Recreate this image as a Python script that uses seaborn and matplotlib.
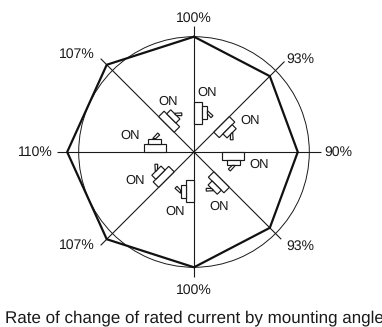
import numpy as np
import pandas as pd
import matplotlib
matplotlib.use("Agg")
import matplotlib.pyplot as plt
from matplotlib.patches import Polygon
from matplotlib.transforms import Affine2D
import seaborn as sns

sns.set_theme(style="white")
plt.rcParams['font.family'] = ['Liberation Sans', 'DejaVu Sans']
plt.rcParams['text.hinting'] = 'no_hinting'
plt.rcParams['text.hinting_factor'] = 1

# data
angles = [0, 45, 90, 135, 180, 225, 270, 315]
rates = [100, 93, 90, 93, 100, 107, 110, 107]
labels = ["100%", "93%", "90%", "93%", "100%", "107%", "110%", "107%"]
title = "Rate of change of rated current by mounting angle"

# presentation
W, H = 382, 327
CX, CY = 194, 152
PX_PER_UNIT = 1.153
RMAX = 120
spoke_len = [109.3, 111, 110, 107, 108.4, 114.5, 119, 114.5]
label_xy = [(194.3, 18), (300.7, 59.3), (338.7, 152), (300.7, 246),
            (194.3, 290), (77.3, 245.3), (35.3, 152.7), (77.3, 54)]
on_xy = [(207.3, 92.7), (250, 120.7), (259, 164.7), (219, 206.7),
         (175.3, 212), (135, 180.7), (130, 136), (167.7, 101.3)]
INK = "#1a1a1a"

fig = plt.figure(figsize=(W / 100, H / 100), dpi=100, facecolor="white")
R = RMAX * PX_PER_UNIT
ax = fig.add_axes([(CX - R) / W, (H - CY - R) / H, 2 * R / W, 2 * R / H], polar=True)
ax.set_theta_zero_location("N")
ax.set_theta_direction(-1)
ax.set_facecolor("none")
ax.spines["polar"].set_visible(False)
ax.set_xticks([])
ax.set_rgrids([100], labels=[""])
ax.grid(True, axis="y", color=INK, lw=0.7)

for a, s in zip(angles, spoke_len):
    ax.plot([np.deg2rad(a)] * 2, [0, s], color=INK, lw=0.8, solid_capstyle="butt")

df = pd.DataFrame({"theta": np.deg2rad(angles + angles[:1]), "rate": rates + rates[:1]})
sns.lineplot(data=df, x="theta", y="rate", sort=False, estimator=None, ax=ax,
             color="#111111", lw=1.6)
ax.set_xlabel("")
ax.set_ylabel("")
ax.set_ylim(0, RMAX)
ax.set_yticklabels([])

# overlay in pixel units for annotations
ov = fig.add_axes([0, 0, 1, 1])
ov.set_xlim(0, W)
ov.set_ylim(H, 0)
ov.axis("off")

# switch icon drawn for the west spoke: (u outward from centre, v up)
icon_parts = [
    [(28, 0), (50, 0), (50, 7.7), (28, 7.7)],
    [(33.3, 7.7), (46.3, 7.7), (46.3, 13.4), (33.3, 13.4)],
    [(41.3, 13.4), (36.3, 19), (34.3, 17), (38.3, 13.4)],
]
for a in angles:
    rot = Affine2D().rotate_deg(a - 270)
    for part in icon_parts:
        # west: u -> -x, v -> screen up (-y); y axis is inverted in overlay
        pts = np.array([(-u, -v) for u, v in part])
        pts = rot.transform(pts) + [CX, CY]
        ov.add_patch(Polygon(pts, closed=True, fc="white", ec=INK, lw=0.85, zorder=3))

for t, (x, y) in zip(labels, label_xy):
    ov.text(x, y, t, ha="center", va="center", fontsize=10.2, color=INK)
for x, y in on_xy:
    ov.text(x, y, "ON", ha="center", va="center", fontsize=9.6, color=INK)
ov.text(194, 318.3, title, ha="center", va="center", fontsize=11.88, color=INK)

fig.savefig("out.png", dpi=100, facecolor="white")
